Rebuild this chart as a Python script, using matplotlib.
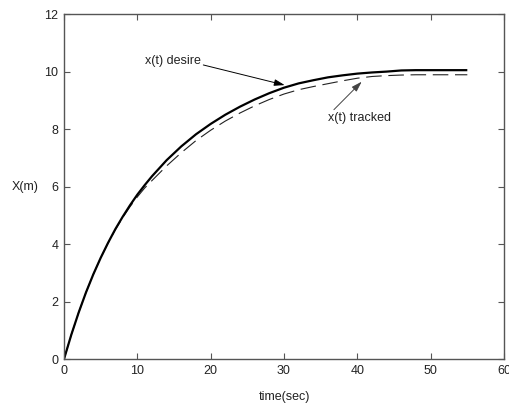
import numpy as np
import matplotlib.pyplot as plt

plt.rcParams['font.family'] = ['Liberation Sans', 'DejaVu Sans']

# time samples (sec)
t = [0, 1, 2, 3, 4, 5, 6, 7, 8, 9, 10, 11, 12, 14, 16, 18, 20, 22, 24, 26,
     28, 30, 32, 34, 36, 38, 40, 42, 44, 46, 48, 55]
# desired trajectory x(t) (m)
x_desire = [0, 0.85, 1.62, 2.32, 2.95, 3.52, 4.04, 4.52, 4.95, 5.35, 5.72,
            6.05, 6.36, 6.92, 7.40, 7.82, 8.18, 8.50, 8.78, 9.03, 9.25, 9.44,
            9.59, 9.70, 9.80, 9.87, 9.93, 9.97, 10.00, 10.04, 10.05, 10.05]
# tracked trajectory x(t) (m)
x_tracked = [0, 0.85, 1.62, 2.32, 2.95, 3.52, 4.03, 4.50, 4.92, 5.30, 5.64,
             5.95, 6.21, 6.72, 7.18, 7.60, 7.96, 8.28, 8.56, 8.81, 9.03, 9.22,
             9.37, 9.48, 9.58, 9.68, 9.77, 9.83, 9.86, 9.88, 9.89, 9.89]

axis_col = '#555555'

fig = plt.figure(figsize=(5.10, 4.03), dpi=100)
ax = fig.add_axes([0.1255, 0.109, 0.8627, 0.856])

ax.plot(t, x_tracked, color='#222222', lw=0.8, ls=(0, (14, 6)))
ax.plot(t, x_desire, color='black', lw=1.6, solid_capstyle='butt')

ax.set_xlim(0, 60)
ax.set_ylim(0, 12)
ax.set_xticks(np.arange(0, 61, 10))
ax.set_yticks(np.arange(0, 13, 2))

for s in ax.spines.values():
    s.set_color(axis_col)
    s.set_linewidth(1.0)
ax.tick_params(direction='in', length=4, width=0.8, color=axis_col,
               labelcolor='#222222', labelsize=9, top=True, right=True,
               pad=4)

ax.set_xlabel('time(sec)', fontsize=9, color='#222222', labelpad=10)
ax.set_ylabel('X(m)', fontsize=9, color='#222222', rotation=0,
              ha='right', va='center')
ax.yaxis.set_label_coords(-0.058, 0.5)

arrow = dict(arrowstyle='-|>,head_length=0.7,head_width=0.22',
             lw=0.7, color='black', shrinkA=0, shrinkB=0)
ax.annotate('x(t) desire', xy=(30.1, 9.53), xytext=(11.0, 10.38),
            fontsize=9, color='#222222', va='center', ha='left',
            arrowprops=dict(arrow, relpos=(1.0, 0.2)))
ax.annotate('x(t) tracked', xy=(40.6, 9.65), xytext=(36.0, 8.37),
            fontsize=9, color='#222222', va='center', ha='left',
            arrowprops=dict(arrow, color='#444444', relpos=(0.05, 1.0)))

fig.savefig('out.png', dpi=100)
